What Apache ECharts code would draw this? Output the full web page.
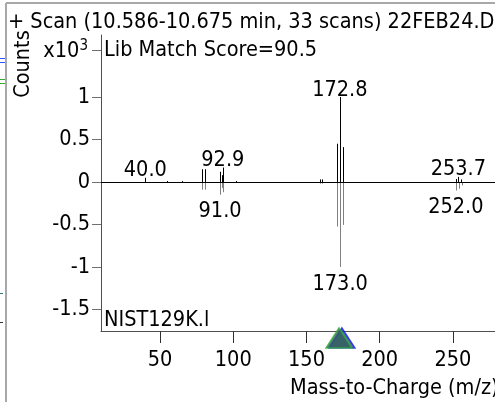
<!DOCTYPE html>
<html><head><meta charset="utf-8">
<script src="https://cdn.jsdelivr.net/npm/echarts@6/dist/echarts.min.js"></script>
<style>html,body{margin:0;padding:0;background:#fff}#c{width:495px;height:402px}</style>
</head><body><div id="c"></div>
<script>
// ---- texts ----
const titleText = '+ Scan (10.586-10.675 min, 33 scans) 22FEB24.D';
const scoreText = 'Lib Match Score=90.5';
const libName = 'NIST129K.l';
const yName = 'Counts';
const yScaleBase = 'x10';
const yScaleExp = '3';
const xName = 'Mass-to-Charge (m/z)';
// ---- ticks ----
const xTicks = [50, 100, 150, 200, 250];
const yTicks = [-1.5, -1, -0.5, 0, 0.5, 1];
// ---- sample spectrum (upward), counts x10^3 ----
const sampleMz  = [40.0, 55.0, 65.0, 79.0, 81.0, 90.9, 92.0, 92.9, 102.0, 159.0, 160.5, 170.8, 172.8, 174.8, 252.0, 253.7, 255.5];
const sampleInt = [0.05, 0.012, 0.012, 0.15, 0.15, 0.12, 0.08, 0.17, 0.012, 0.03, 0.03, 0.45, 1.0, 0.41, 0.035, 0.06, 0.03];
// ---- library spectrum (downward), counts x10^3 ----
const libMz  = [79.0, 81.0, 91.0, 92.0, 93.0, 159.0, 160.5, 171.0, 173.0, 175.0, 252.0, 254.0, 256.0];
const libInt = [-0.09, -0.09, -0.15, -0.07, -0.12, -0.02, -0.02, -0.525, -1.0, -0.505, -0.10, -0.08, -0.04];
// ---- annotated peaks ----
const sampleLabelMz = [40.0, 92.9, 172.8, 253.7];
const libLabelMz = [91.0, 173.0, 252.0];
// ---- precursor markers ----
const markerMz = [174.2, 172.2];

const FONT = "'DejaVu Sans Condensed', 'DejaVu Sans', sans-serif";
const FS = 21.5;

const sampleData = sampleMz.map((m, i) => [m, sampleInt[i]]);
const libData = libMz.map((m, i) => [m, libInt[i]]);
const sampleLabelData = sampleLabelMz.map(m => [m, sampleInt[sampleMz.indexOf(m)]]);
const libLabelData = libLabelMz.map(m => [m, libInt[libMz.indexOf(m)]]);

function peakRender(color) {
  return function (params, api) {
    const mz = api.value(0), v = api.value(1);
    const p0 = api.coord([mz, 0]), p1 = api.coord([mz, v]);
    const x = Math.round(p0[0]) + 0.5;
    return { type: 'line', shape: { x1: x, y1: p0[1], x2: x, y2: p1[1] },
      style: { stroke: color, lineWidth: 1 } };
  };
}
function labelRender(up) {
  return function (params, api) {
    const mz = api.value(0), v = api.value(1);
    const p = api.coord([mz, v]);
    return { type: 'text', x: p[0], y: up ? p[1] - 7 : p[1] + 17,
      style: { text: mz.toFixed(1), font: FS + 'px ' + FONT, fill: '#000',
        align: 'center', verticalAlign: 'middle' } };
  };
}

const chart = echarts.init(document.getElementById('c'), null, { renderer: 'canvas' });
chart.setOption({
  animation: false,
  backgroundColor: '#fff',
  grid: { left: 101, top: 35, right: 0, bottom: 71, containLabel: false },
  xAxis: {
    type: 'value', min: 9.73, max: 278.7,
    splitLine: { show: false },
    axisLine: { show: true, onZero: false, lineStyle: { color: '#505050', width: 1 } },
    axisTick: { show: true, customValues: xTicks, length: 12, lineStyle: { color: '#303030' } },
    axisLabel: { customValues: xTicks, margin: 18, color: '#000', fontFamily: FONT, fontSize: FS }
  },
  yAxis: {
    type: 'value', min: -1.753, max: 1.729,
    splitLine: { show: false },
    axisLine: { show: true, onZero: false, lineStyle: { color: '#505050', width: 1 } },
    axisTick: { show: true, customValues: yTicks, length: 9, lineStyle: { color: '#707070' } },
    axisLabel: { customValues: yTicks, margin: 11, color: '#000', fontFamily: FONT, fontSize: FS,
      formatter: v => String(v) }
  },
  series: [
    { type: 'custom', name: 'library', renderItem: peakRender('#808080'), data: libData, clip: false, z: 2 },
    { type: 'custom', name: 'sample', renderItem: peakRender('#000'), data: sampleData, clip: false, z: 3,
      markLine: { silent: true, symbol: 'none', label: { show: false },
        lineStyle: { color: '#000', width: 1, type: 'solid' }, data: [{ yAxis: 0 }] } },
    { type: 'custom', renderItem: labelRender(true), data: sampleLabelData, clip: false, z: 4 },
    { type: 'custom', renderItem: labelRender(false), data: libLabelData, clip: false, z: 4 },
    { type: 'scatter', data: [[markerMz[0], -1.835]], symbol: 'triangle', symbolSize: [26, 20],
      clip: false, z: 5, itemStyle: { color: '#2a4d7a', borderColor: '#1a1aff', borderWidth: 1.5 } },
    { type: 'scatter', data: [[markerMz[1], -1.835]], symbol: 'triangle', symbolSize: [26, 20],
      clip: false, z: 6, itemStyle: { color: '#2e5f5c', borderColor: '#36b03a', borderWidth: 1.5 } }
  ],
  graphic: [
    { type: 'line', shape: { x1: 6, y1: 3, x2: 6, y2: 402 }, style: { stroke: '#a8a8a8', lineWidth: 2 } },
    { type: 'line', shape: { x1: 6, y1: 3, x2: 495, y2: 3 }, style: { stroke: '#a8a8a8', lineWidth: 2 } },
    { type: 'line', shape: { x1: 0, y1: 58.5, x2: 5, y2: 58.5 }, style: { stroke: '#3355ff', lineWidth: 1 } },
    { type: 'line', shape: { x1: 0, y1: 62.5, x2: 5, y2: 62.5 }, style: { stroke: '#3355ff', lineWidth: 1 } },
    { type: 'line', shape: { x1: 0, y1: 79.5, x2: 5, y2: 79.5 }, style: { stroke: '#33aa33', lineWidth: 1 } },
    { type: 'line', shape: { x1: 0, y1: 83.5, x2: 5, y2: 83.5 }, style: { stroke: '#33aa33', lineWidth: 1 } },
    { type: 'line', shape: { x1: 0, y1: 293.5, x2: 3, y2: 293.5 }, style: { stroke: '#3a7a7a', lineWidth: 1 } },
    { type: 'line', shape: { x1: 0, y1: 322.5, x2: 3, y2: 322.5 }, style: { stroke: '#333', lineWidth: 1 } },
    { type: 'text', x: 8, y: 22, style: { text: titleText, font: FS + 'px ' + FONT, fill: '#000', align: 'left', verticalAlign: 'middle' } },
    { type: 'text', x: 104, y: 50, style: { text: scoreText, font: FS + 'px ' + FONT, fill: '#000', align: 'left', verticalAlign: 'middle' } },
    { type: 'text', x: 104, y: 320, style: { text: libName, font: FS + 'px ' + FONT, fill: '#000', align: 'left', verticalAlign: 'middle' } },
    { type: 'text', x: 23, y: 64, rotation: Math.PI / 2, style: { text: yName, font: FS + 'px ' + FONT, fill: '#000', align: 'center', verticalAlign: 'middle' } },
    { type: 'text', x: 88, y: 51, style: {
        text: '{b|' + yScaleBase + '}{s|' + yScaleExp + '}', align: 'right', verticalAlign: 'middle',
        rich: { b: { font: FS + 'px ' + FONT, color: '#000' },
                s: { font: '15px ' + FONT, color: '#000', verticalAlign: 'top', padding: [0, 0, 9, 0] } } } },
    { type: 'line', shape: { x1: 92, y1: 50.5, x2: 101, y2: 50.5 }, style: { stroke: '#707070', lineWidth: 1 } },
    { type: 'text', x: 290, y: 388, style: { text: xName, font: FS + 'px ' + FONT, fill: '#000', align: 'left', verticalAlign: 'middle' } }
  ]
});
</script>
</body></html>
